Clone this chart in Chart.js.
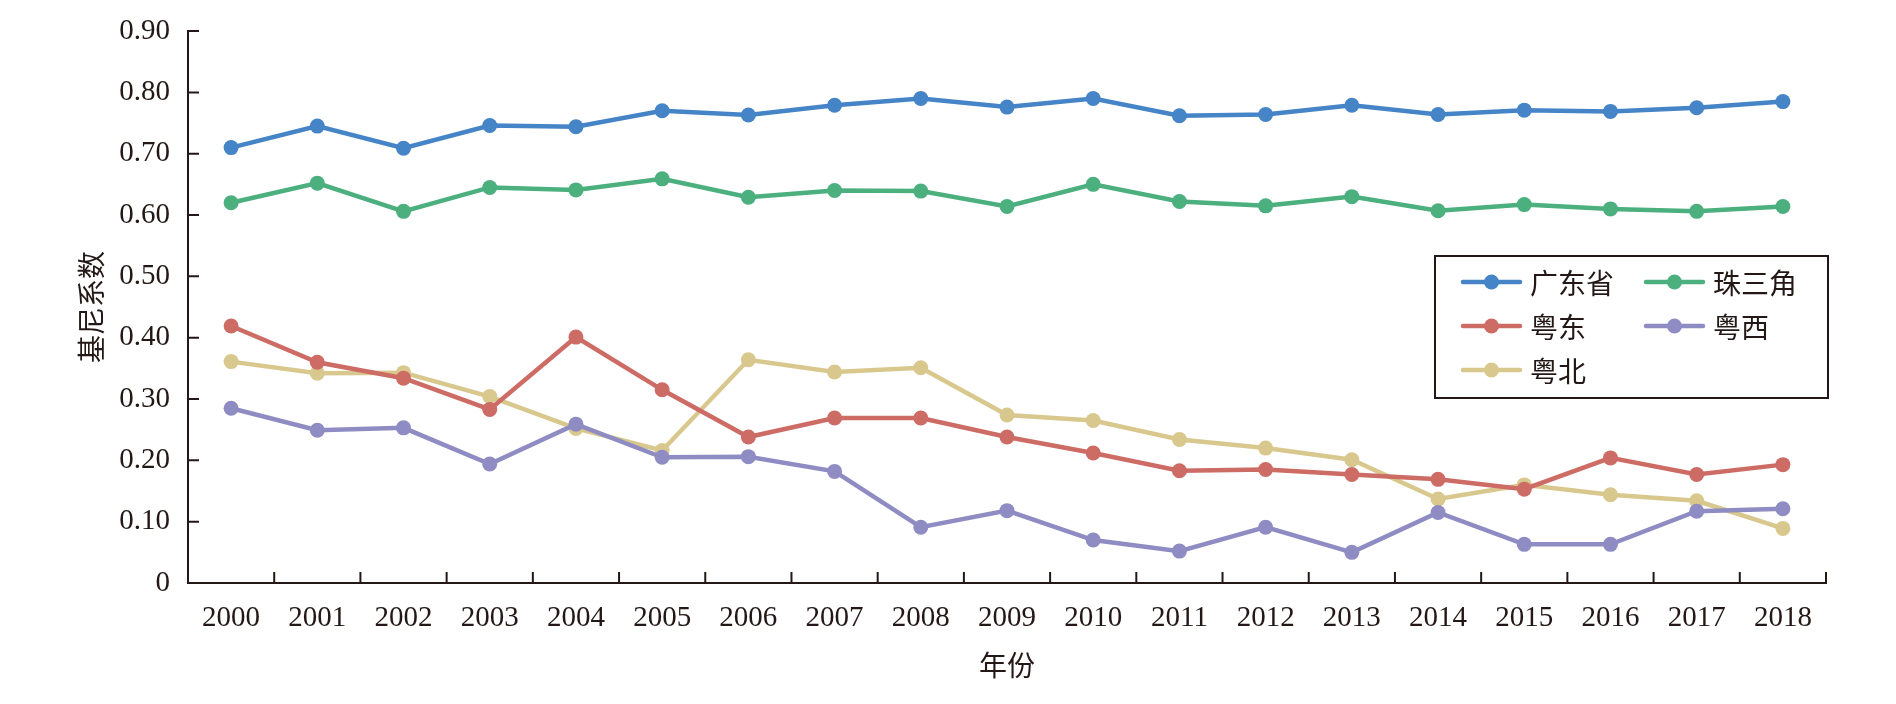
<!DOCTYPE html>
<html><head><meta charset="utf-8">
<script src="https://cdn.jsdelivr.net/npm/chart.js@4.4.0/dist/chart.umd.min.js"></script>
<style>html,body{margin:0;padding:0;background:#fff}#wrap{width:1896px;height:704px;position:relative}</style>
</head><body><div id="wrap"><canvas id="c" width="1896" height="704"></canvas></div>
<script>
const years = ['2000','2001','2002','2003','2004','2005','2006','2007','2008','2009','2010','2011','2012','2013','2014','2015','2016','2017','2018'];
const seriesNames = ['广东省','珠三角','粤东','粤西','粤北'];
const guangdong = [0.710,0.745,0.709,0.746,0.744,0.770,0.763,0.779,0.790,0.776,0.790,0.762,0.764,0.779,0.764,0.771,0.769,0.775,0.785];
const prd       = [0.620,0.652,0.606,0.645,0.641,0.659,0.629,0.640,0.639,0.614,0.650,0.622,0.615,0.630,0.607,0.617,0.610,0.606,0.614];
const yueDong   = [0.419,0.360,0.334,0.283,0.401,0.315,0.238,0.269,0.269,0.238,0.212,0.183,0.185,0.177,0.169,0.153,0.204,0.177,0.193];
const yueXi     = [0.285,0.249,0.253,0.194,0.259,0.205,0.206,0.182,0.091,0.118,0.070,0.052,0.091,0.050,0.115,0.063,0.063,0.117,0.121];
const yueBei    = [0.361,0.342,0.343,0.304,0.252,0.216,0.364,0.344,0.351,0.274,0.265,0.234,0.220,0.201,0.137,0.160,0.144,0.134,0.089];
const yTicks = [0,0.1,0.2,0.3,0.4,0.5,0.6,0.7,0.8,0.9];
const xTitle = '年份';
const yTitle = '基尼系数';

const colors = ['#4584C6','#4BAF7E','#CD6B65','#8E8CC3','#D9C88E'];
const axisColor = '#231815';
const serif = '"Liberation Serif", "DejaVu Serif", serif';
const cjk = '"Noto Sans CJK SC", sans-serif';

const allSeries = [guangdong, prd, yueDong, yueXi, yueBei];
const datasets = allSeries.map((d, i) => ({
  label: seriesNames[i],
  data: d,
  borderColor: colors[i],
  backgroundColor: colors[i],
  pointBackgroundColor: colors[i],
  pointBorderColor: colors[i],
  pointBorderWidth: 0,
  pointRadius: 7.5,
  borderWidth: 4.5,
  tension: 0,
  fill: false
}));

const innerTicks = {
  id: 'innerTicks',
  afterDraw(chart) {
    const ctx = chart.ctx;
    const xs = chart.scales.x, ys = chart.scales.y;
    const area = chart.chartArea;
    ctx.save();
    ctx.strokeStyle = axisColor;
    ctx.lineWidth = 2;
    ctx.beginPath();
    ys.ticks.forEach((t, i) => {
      const y = ys.getPixelForTick(i);
      ctx.moveTo(area.left, y);
      ctx.lineTo(area.left + 11, y);
    });
    const n = xs.ticks.length;
    for (let i = 1; i < n; i++) {
      const x = (xs.getPixelForTick(i - 1) + xs.getPixelForTick(i)) / 2;
      ctx.moveTo(x, area.bottom);
      ctx.lineTo(x, area.bottom - 11);
    }
    ctx.moveTo(area.right, area.bottom);
    ctx.lineTo(area.right, area.bottom - 11);
    ctx.stroke();
    ctx.restore();
  }
};

const boxLegend = {
  id: 'boxLegend',
  afterDraw(chart) {
    const ctx = chart.ctx;
    const box = {x: 1435, y: 256, w: 393, h: 142};
    ctx.save();
    ctx.fillStyle = '#fff';
    ctx.fillRect(box.x, box.y, box.w, box.h);
    ctx.strokeStyle = axisColor;
    ctx.lineWidth = 2;
    ctx.strokeRect(box.x, box.y, box.w, box.h);
    ctx.font = '28px ' + cjk;
    ctx.textBaseline = 'middle';
    ctx.textAlign = 'left';
    chart.data.datasets.forEach((ds, i) => {
      const col = i % 2, row = Math.floor(i / 2);
      const x0 = box.x + 28 + col * 183;
      const y0 = box.y + 26 + row * 44;
      ctx.strokeStyle = ds.borderColor;
      ctx.lineWidth = 4.5;
      ctx.lineCap = 'round';
      ctx.beginPath();
      ctx.moveTo(x0, y0);
      ctx.lineTo(x0 + 57, y0);
      ctx.stroke();
      ctx.fillStyle = ds.borderColor;
      ctx.beginPath();
      ctx.arc(x0 + 28.5, y0, 7.5, 0, Math.PI * 2);
      ctx.fill();
      ctx.fillStyle = axisColor;
      ctx.fillText(ds.label, x0 + 67, y0 + 1);
    });
    ctx.restore();
  }
};

new Chart(document.getElementById('c'), {
  type: 'line',
  data: { labels: years, datasets },
  plugins: [innerTicks, boxLegend],
  options: {
    responsive: false,
    animation: false,
    devicePixelRatio: 1,
    layout: { padding: { left: 0, right: 70, top: 12, bottom: 0 } },
    plugins: { legend: { display: false }, tooltip: { enabled: false } },
    scales: {
      x: {
        type: 'category',
        offset: true,
        grid: { display: false, drawTicks: false },
        border: { display: true, color: axisColor, width: 2 },
        ticks: { color: axisColor, font: { family: serif, size: 29 }, padding: 18, maxRotation: 0, autoSkip: false },
        title: { display: true, text: xTitle, color: axisColor, font: { family: cjk, size: 28 }, padding: { top: 0, bottom: 22 } },
        afterFit(s) { s.height = 121; }
      },
      y: {
        min: 0, max: 0.9,
        afterBuildTicks(s) { s.ticks = yTicks.map(v => ({ value: v })); },
        grid: { display: false, drawTicks: false },
        border: { display: true, color: axisColor, width: 2 },
        ticks: {
          color: axisColor, font: { family: serif, size: 29, lineHeight: 0.9 }, padding: 18,
          callback: v => v === 0 ? '0' : Number(v).toFixed(2)
        },
        title: { display: true, text: yTitle, color: axisColor, font: { family: cjk, size: 28 }, padding: { top: 75, bottom: 0 } },
        afterFit(s) { s.width = 188; }
      }
    }
  }
});
</script>
</body></html>
